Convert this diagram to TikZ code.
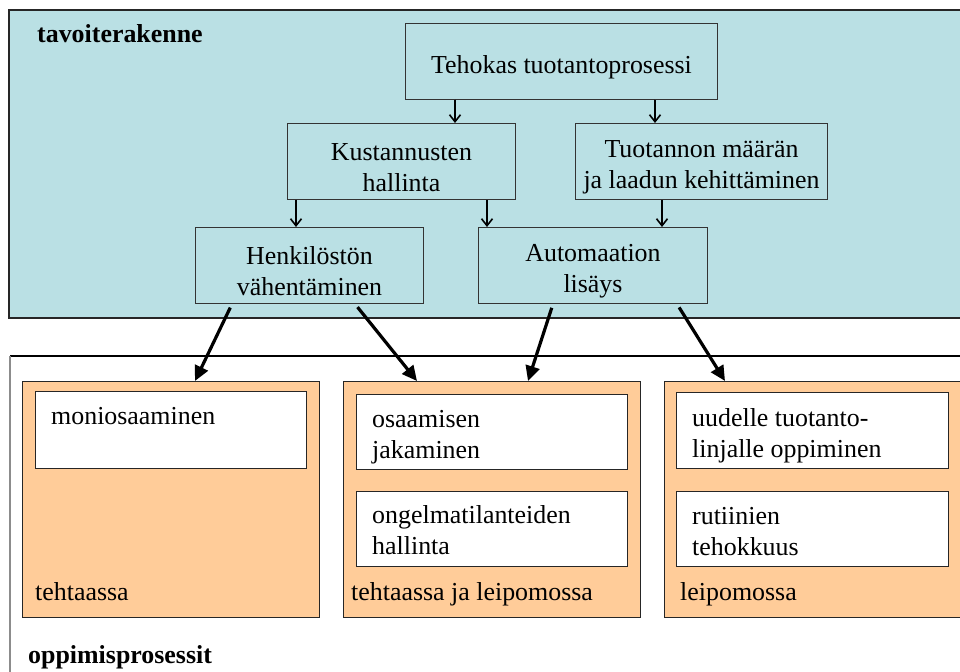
\documentclass[tikz,border=0pt]{standalone}
\usepackage{fontspec}
\setmainfont{Liberation Serif}
\usetikzlibrary{arrows.meta}
\definecolor{panelteal}{RGB}{186,224,228}
\definecolor{siteorange}{RGB}{255,204,153}
\newcommand{\topstrut}{\rule{0pt}{29bp}}
\begin{document}
\begin{tikzpicture}[x=1bp,y=-1bp,
  every node/.style={font=\fontsize{26}{31}\selectfont, text=black},
  goalbox/.style={draw=black!80, line width=1bp, fill=panelteal, inner sep=0pt,
    align=center, anchor=north west, minimum height=76bp},
  sitebox/.style={draw=black!85, line width=1bp, fill=siteorange, inner sep=0pt,
    anchor=north west, minimum height=236bp, minimum width=297bp},
  skillbox/.style={draw=black!85, line width=1bp, fill=white, inner sep=0pt,
    anchor=north west, minimum width=271bp},
  label/.style={anchor=base west, inner sep=0pt, align=left},
  title/.style={anchor=base west, inner sep=0pt, font=\fontsize{26}{31}\selectfont\bfseries},
  thinarrow/.style={line width=1.6bp, -{Straight Barb[length=7bp,width=11bp]}},
  thickarrow/.style={line width=3.2bp, shorten <=4bp, -{Triangle[length=15bp,width=14bp]}}
]
\useasboundingbox (0,0) rectangle (960,672);

% goal structure panel
\fill[panelteal] (9,10) rectangle (962,318);
\draw[line width=1.5bp, black!85] (962,10) -- (9,10) -- (9,318) -- (962,318);
\node[title] (goaltitle) at (37,43) {tavoiterakenne};

\node[goalbox, minimum width=312bp] (teh)  at (405,23)  {\topstrut Tehokas tuotantoprosessi};
\node[goalbox, minimum width=228bp] (kust) at (287,123) {\topstrut Kustannusten\\hallinta};
\node[goalbox, minimum width=252bp] (tuot) at (575,123) {\topstrut Tuotannon määrän\\ja laadun kehittäminen};
\node[goalbox, minimum width=228bp] (henk) at (195,227) {\topstrut Henkilöstön\\vähentäminen};
\node[goalbox, minimum width=229bp] (auto) at (478,227) {\topstrut Automaation\\lisäys};

\draw[thinarrow] ([xshift=50bp]teh.south west)  -- ([xshift=168bp]kust.north west);
\draw[thinarrow] ([xshift=250bp]teh.south west) -- ([xshift=80bp]tuot.north west);
\draw[thinarrow] ([xshift=9bp]kust.south west)  -- ([xshift=101bp]henk.north west);
\draw[thinarrow] ([xshift=200bp]kust.south west) -- ([xshift=9bp]auto.north west);
\draw[thinarrow] ([xshift=87bp]tuot.south west) -- ([xshift=184bp]auto.north west);

% learning process panel
\draw[line width=1.5bp] (962,356) -- (10,356);
\draw[line width=1.5bp, black!45] (10,356) -- (10,674);
\node[title] (learntitle) at (28,663) {oppimisprosessit};

\node[sitebox] (left)  at (22,381)  {};
\node[sitebox] (mid)   at (343,381) {};
\node[sitebox, minimum width=296bp] (right) at (664,381) {};

\node[skillbox, minimum height=77bp] (l1) at (35,391)  {};
\node[skillbox, minimum height=75bp] (m1) at (356,394) {};
\node[skillbox, minimum height=75bp] (m2) at (356,491) {};
\node[skillbox, minimum width=272bp, minimum height=76bp] (r1) at (676,392) {};
\node[skillbox, minimum width=272bp, minimum height=75bp] (r2) at (676,491) {};

% two-line labels are placed by the baseline of their last line
\node[label] (l1t) at (51,424)  {moniosaaminen};
\node[label] (m1t) at (372,458) {osaamisen\\jakaminen};
\node[label] (m2t) at (372,554) {ongelmatilanteiden\\hallinta};
\node[label] (r1t) at (692,457) {uudelle tuotanto-\\linjalle oppiminen};
\node[label] (r2t) at (692,555) {rutiinien\\tehokkuus};

\node[label] (lsite) at (35,600)  {tehtaassa};
\node[label] (msite) at (351,600) {tehtaassa ja leipomossa};
\node[label] (rsite) at (680,600) {leipomossa};

\draw[thickarrow] ([xshift=37bp]henk.south west)  -- ([xshift=173bp]left.north west);
\draw[thickarrow] ([xshift=160bp]henk.south west) -- ([xshift=74bp]mid.north west);
\draw[thickarrow] ([xshift=75bp]auto.south west)  -- ([xshift=185bp]mid.north west);
\draw[thickarrow] ([xshift=199bp]auto.south west) -- ([xshift=61bp]right.north west);
\end{tikzpicture}
\end{document}
